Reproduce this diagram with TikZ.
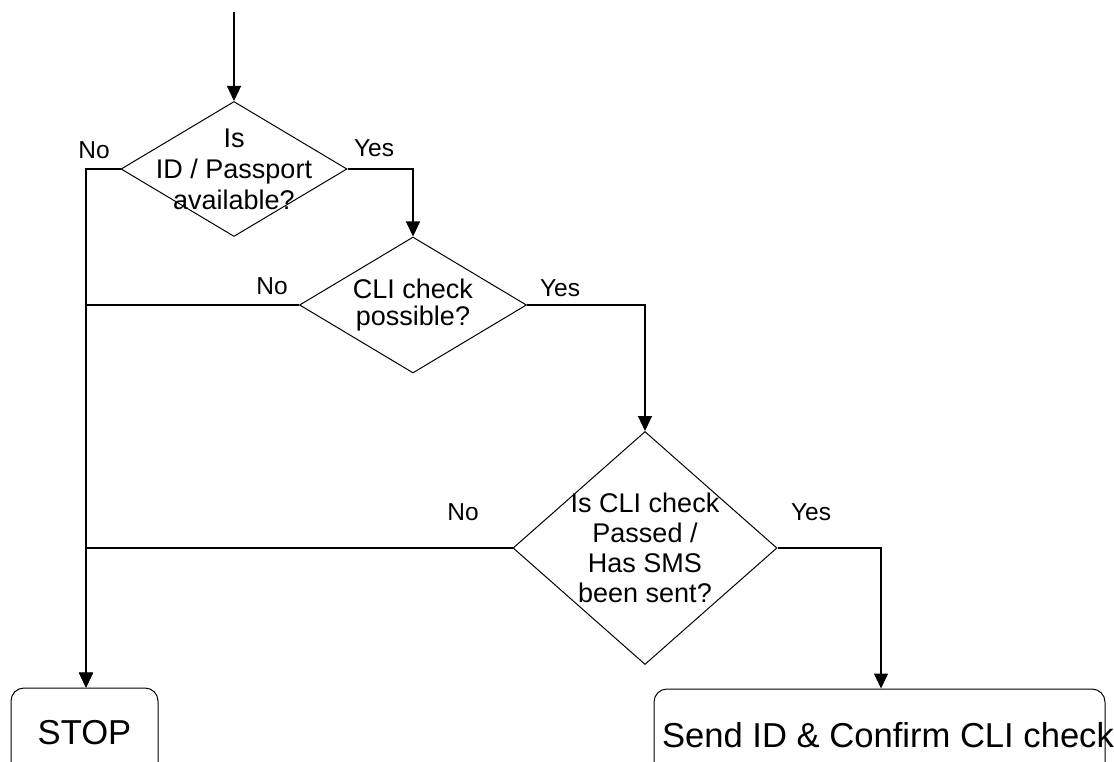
\documentclass[tikz,border=0pt]{standalone}
\usepackage{fontspec}
\setmainfont{Liberation Sans}
\usetikzlibrary{shapes.geometric,arrows.meta}
\begin{document}
\begin{tikzpicture}[x=1pt,y=-1pt,
  line/.style={draw, line width=1.2pt},
  arr/.style={line, -{Triangle[length=15pt,width=14pt]}},
  dia/.style={diamond, draw, line width=1pt, inner sep=0pt},
  dtext/.style={font=\fontsize{27}{31}\selectfont, align=center, inner sep=0pt},
  term/.style={draw, rounded corners=13pt, line width=1pt, font=\fontsize{34.6}{40}\selectfont, inner sep=0pt},
  lab/.style={font=\fontsize{24.5}{28}\selectfont, inner sep=0pt}]
\clip (0,0) rectangle (1114,762);
\fill[white] (0,0) rectangle (1114,762);

\coordinate (start) at (234,12);
\node[dia, minimum width=226pt, minimum height=135pt,
  label={[dtext]center:{Is\\ID / Passport\\available?}}] (d1) at (234,169) {};
\node[dia, minimum width=227pt, minimum height=136pt,
  label={[dtext, font=\fontsize{27}{27}\selectfont]center:{CLI check\\possible?}}] (d2) at (413,305) {};
\node[dia, minimum width=264pt, minimum height=233pt,
  label={[dtext, font=\fontsize{27}{30}\selectfont]center:{Is CLI check\\Passed /\\Has SMS\\been sent?}}] (d3) at (645,548) {};
\node[term, minimum width=147pt, minimum height=90pt] (stop) at (84.5,733) {STOP};
\node[term, minimum width=451pt, minimum height=92pt] (send) at (879.5,735) {\makebox[451pt][l]{\hspace*{8pt}Send ID \& Confirm CLI check}};

\node[lab] (l1) at (94,150) {No};
\node[lab] (l2) at (374,148) {Yes};
\node[lab] (l3) at (272,286) {No};
\node[lab] (l4) at (560,288) {Yes};
\node[lab] (l5) at (463,512) {No};
\node[lab] (l6) at (811,512) {Yes};

\draw[arr] (start) -- (d1.north);
\draw[arr] (d1.west) -- (86,169 |- d1.west) -| (stop.north -| 86,0);
\draw[arr] (d1.east) -| (d2.north);
\draw[arr] (d2.west) -| (stop.north -| 86,0);
\draw[arr] (d2.east) -| (d3.north);
\draw[arr] (d3.west) -| (stop.north -| 86,0);
\draw[arr] (d3.east) -| (send.north -| 881,0);
\end{tikzpicture}
\end{document}
